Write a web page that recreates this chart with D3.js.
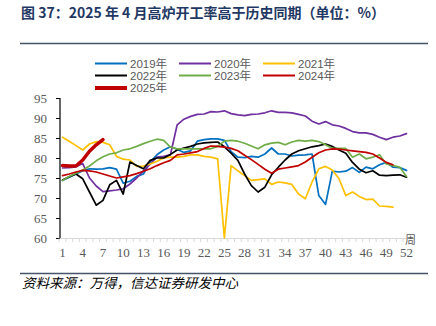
<!DOCTYPE html>
<html><head><meta charset="utf-8">
<script src="https://cdn.jsdelivr.net/npm/d3@7"></script>
<style>body{margin:0;background:#fff}svg{display:block}</style>
</head><body><svg id="c" width="436" height="326"></svg>
<script>
const seriesNames = ["2019年","2020年","2021年","2022年","2023年","2024年","2025年"];
const seriesColors = ["#0070C0","#7030A0","#FFC000","#000000","#70AD47","#C00000","#C00000"];
const yTickValues = [60,65,70,75,80,85,90,95];
const xTickLabels = [1,4,7,10,13,16,19,22,25,28,31,34,37,40,43,46,49,52];

const s2019 = [74.4,75.2,76.0,76.8,77.3,77.2,77.3,77.6,77.2,73.7,74.2,75.4,76.0,79.0,80.8,82.0,82.8,82.2,81.4,81.8,84.2,84.6,84.8,84.8,84.4,81.6,80.2,80.1,80.4,80.2,81.0,82.5,81.0,81.0,80.5,80.7,80.8,81.0,70.6,68.4,76.7,76.5,76.7,77.6,76.4,77.7,77.3,78.3,78.9,77.7,77.6,76.9];
const s2020 = [77.5,77.6,77.8,78.6,75.0,73.0,71.6,71.8,72.0,72.3,73.5,75.0,76.8,78.5,80.2,80.4,80.8,88.3,89.7,90.4,90.9,91.0,91.6,91.5,91.8,91.1,90.8,90.6,90.9,91.0,91.3,91.8,91.4,91.4,91.3,90.9,90.5,89.2,88.5,89.1,88.3,88.0,87.4,86.6,86.3,86.3,85.9,85.2,84.6,85.2,85.5,86.1];
const s2021 = [85.2,84.2,83.1,82.0,83.5,84.1,83.9,83.3,80.4,79.7,79.5,77.9,78.0,78.5,79.2,80.0,80.2,80.2,80.4,80.8,80.8,80.4,80.2,79.8,60.0,78.1,76.8,75.6,74.4,74.6,74.8,73.4,74.0,73.8,73.4,71.0,69.8,74.0,77.3,77.9,77.0,74.8,70.6,71.5,70.4,69.6,69.7,68.0,67.9,67.7];
const s2022 = [74.5,75.3,76.0,74.8,71.5,68.2,69.4,73.3,74.4,71.0,79.0,78.1,77.3,79.4,80.0,80.0,80.9,82.0,82.5,82.9,83.5,83.8,83.9,84.0,82.8,81.2,79.4,76.0,73.1,71.5,72.7,75.8,77.7,79.5,81.0,81.8,82.3,82.8,83.1,83.5,82.9,82.0,81.2,78.9,77.2,76.3,76.8,75.7,75.6,75.7,75.8,75.2];
const s2023 = [74.4,75.4,76.2,77.0,78.0,79.3,80.3,81.0,81.3,82.0,82.3,82.9,83.6,84.2,84.7,84.4,82.7,82.3,82.3,82.3,82.3,82.3,82.3,82.9,84.2,84.4,84.2,83.7,83.0,82.3,83.3,83.7,83.9,83.3,84.0,84.4,84.2,84.4,84.1,83.3,82.4,82.4,82.4,80.2,81.0,79.8,80.2,80.8,78.5,78.1,77.7,75.4];
const s2024 = [75.6,76.0,76.5,76.9,76.8,76.5,76.0,75.5,75.0,75.3,75.6,76.1,76.7,77.3,78.1,78.8,79.4,80.8,81.0,81.3,81.6,82.4,83.0,82.9,82.7,82.4,81.8,80.7,79.6,78.4,77.2,76.2,77.2,77.5,77.8,78.1,79.0,80.2,81.3,82.0,82.3,82.2,82.0,81.8,81.6,81.4,81.0,80.0,78.9,78.3];
const s2025 = [78.1,78.0,78.0,79.5,81.7,83.3,84.6];
const allSeries = [s2019,s2020,s2021,s2022,s2023,s2024,s2025];

const svg = d3.select("#c");
const x = d3.scaleLinear().domain([1,52]).range([62.5,406.5]);
const y = d3.scaleLinear().domain([60,95]).range([238,98]);
const step = x(2)-x(1);

// title
svg.append("text").attr("x",21).attr("y",18)
  .attr("font-family","'Noto Sans CJK SC',sans-serif").attr("font-weight","bold")
  .attr("font-size",14).attr("fill","#1F3864")
  .text("图 37：2025 年 4 月高炉开工率高于历史同期（单位：%）");
svg.append("line").attr("x1",20).attr("x2",428).attr("y1",43.5).attr("y2",43.5)
  .attr("stroke","#44546A").attr("stroke-width",1.5);

// legend
const legendRows = [[0,1,2],[3,4,5],[6]];
const colX = [95,179,263];
const rowY = [63.5,75.5,88];
legendRows.forEach((row,ri)=>row.forEach((si,ci)=>{
  const g = svg.append("g");
  g.append("line").attr("x1",colX[ci]).attr("x2",colX[ci]+32).attr("y1",rowY[ri]).attr("y2",rowY[ri])
    .attr("stroke",seriesColors[si]).attr("stroke-width",si===6?4:2);
  g.append("text").attr("x",colX[ci]+35).attr("y",rowY[ri]).attr("dy","0.36em")
    .attr("font-family","'Liberation Sans','Noto Sans CJK SC',sans-serif").attr("font-size",11.5)
    .attr("fill","#595959").text(seriesNames[si]);
}));

// y axis
const yAxis = d3.axisLeft(y).tickValues(yTickValues).tickSize(4).tickPadding(9);
const gy = svg.append("g").attr("transform","translate(60,0)").call(yAxis);
gy.select(".domain").attr("stroke","#000").attr("stroke-width",1.2).attr("d","M0,98V238");
gy.selectAll(".tick line").attr("stroke","#000");
gy.selectAll("text").attr("font-family","'Liberation Serif',serif").attr("font-size",13).attr("fill","#595959");

// x axis
const gx = svg.append("g").attr("transform","translate(0,238)");
gx.append("line").attr("x1",60).attr("x2",406).attr("y1",0.5).attr("y2",0.5).attr("stroke","#D9D9D9").attr("stroke-width",1);
const boundaries = s2019.map((d,i)=>x(i+1)-step/2);
gx.selectAll("line.mt").data(boundaries).enter().append("line").attr("class","mt")
  .attr("x1",d=>d).attr("x2",d=>d).attr("y1",0.5).attr("y2",4).attr("stroke","#D9D9D9");
gx.selectAll("text.xl").data(xTickLabels).enter().append("text").attr("class","xl")
  .attr("x",d=>x(d)).attr("y",19).attr("text-anchor","middle")
  .attr("font-family","'Liberation Serif',serif").attr("font-size",13).attr("fill","#595959").text(d=>d);
svg.append("text").attr("x",405).attr("y",244)
  .attr("font-family","'Noto Sans CJK SC',sans-serif").attr("font-size",11).attr("fill","#595959").text("周");

// lines
const line = d3.line().x((d,i)=>x(i+1)).y(d=>y(d));
allSeries.forEach((s,i)=>{
  svg.append("path").datum(s).attr("d",line).attr("fill","none")
    .attr("stroke",seriesColors[i]).attr("stroke-width",i===6?3.5:1.7)
    .attr("stroke-linejoin","round").attr("stroke-linecap","round");
});

// source
svg.append("line").attr("x1",20).attr("x2",428).attr("y1",273.5).attr("y2",273.5)
  .attr("stroke","#44546A").attr("stroke-width",1.5);
svg.append("text").attr("x",22).attr("y",288)
  .attr("font-family","'Noto Sans CJK SC',sans-serif").attr("font-style","italic")
  .attr("font-size",13.5).attr("fill","#000").text("资料来源：万得，信达证券研发中心");
</script></body></html>
